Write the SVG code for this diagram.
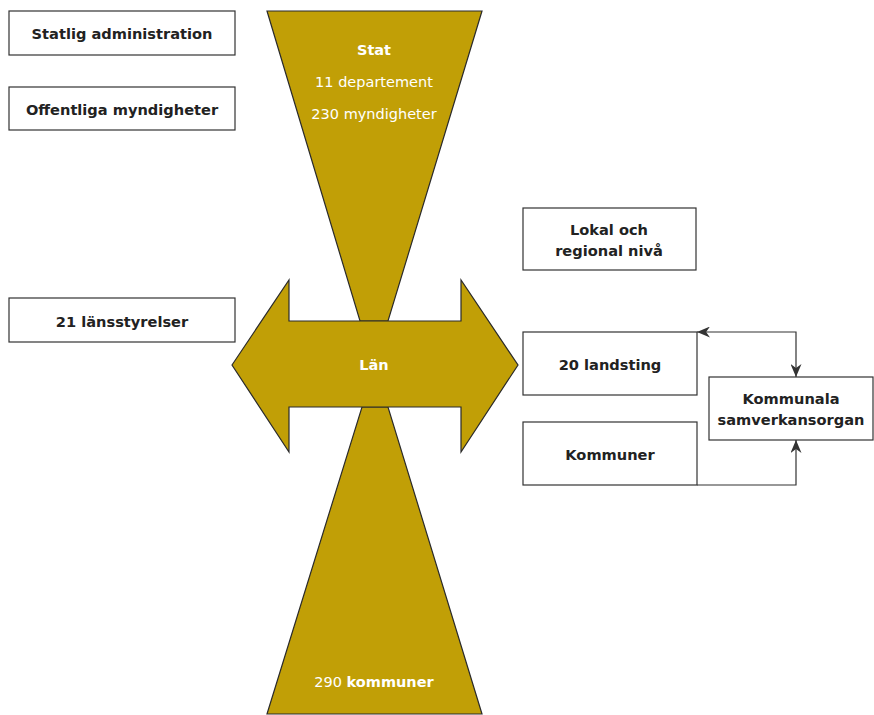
<svg xmlns="http://www.w3.org/2000/svg" width="874" height="715" viewBox="0 0 874 715">
<style>
.box{fill:#fff;stroke:#333;stroke-width:1.2}
.gold{fill:#C19F06;stroke:#2a2a2a;stroke-width:1.2;stroke-linejoin:miter}
.t{font-family:"DejaVu Sans",Verdana,sans-serif;font-size:14.6px;font-weight:bold;fill:#222;text-anchor:middle;dominant-baseline:central}
.w{font-family:"DejaVu Sans",Verdana,sans-serif;font-size:14.5px;fill:#fff;text-anchor:middle;dominant-baseline:central}
.conn{fill:none;stroke:#333;stroke-width:1.2}
</style>
<defs>
<marker id="ah" viewBox="0 0 10 10" refX="10" refY="5" markerWidth="13" markerHeight="11" markerUnits="userSpaceOnUse" orient="auto-start-reverse" preserveAspectRatio="none">
<path d="M0,0 L10,5 L0,10 L3,5 Z" fill="#333"/>
</marker>
</defs>
<g id="hourglass">
<polygon class="gold" points="267,11 482,11 388,321 360,321"/>
<polygon class="gold" points="362,407 388,407 482,714 267,714"/>
</g>
<g id="lan">
<polygon class="gold" points="232,365 289,280 289,321 461,321 461,280 518,365 461,452 461,407 289,407 289,452"/>
<text class="w" x="374" y="365" font-weight="bold">Län</text>
</g>
<g id="stat">
<text class="w" x="374" y="50" font-weight="bold">Stat</text>
<text class="w" x="374" y="82">11 departement</text>
<text class="w" x="374" y="114">230 myndigheter</text>
</g>
<g id="kommuner290">
<text class="w" x="374" y="682">290 <tspan font-weight="bold">kommuner</tspan></text>
</g>
<g id="statlig">
<rect class="box" x="9" y="11" width="226" height="44"/>
<text class="t" x="122" y="33">Statlig administration</text>
</g>
<g id="offentliga">
<rect class="box" x="9" y="87" width="226" height="43"/>
<text class="t" x="122" y="109">Offentliga myndigheter</text>
</g>
<g id="lansstyrelser">
<rect class="box" x="9" y="298" width="226" height="44"/>
<text class="t" x="122" y="321">21 länsstyrelser</text>
</g>
<g id="lokal">
<rect class="box" x="523" y="208" width="173" height="62"/>
<text class="t" x="609" y="229">Lokal och</text>
<text class="t" x="609" y="250">regional nivå</text>
</g>
<g id="landsting">
<rect class="box" x="523" y="332" width="174" height="63"/>
<text class="t" x="610" y="364">20 landsting</text>
</g>
<g id="kommuner">
<rect class="box" x="523" y="422" width="174" height="63"/>
<text class="t" x="610" y="454">Kommuner</text>
</g>
<g id="samverkan">
<rect class="box" x="709" y="377" width="164" height="63"/>
<text class="t" x="791" y="398">Kommunala</text>
<text class="t" x="791" y="419">samverkansorgan</text>
</g>
<g id="connectors">
<path class="conn" d="M697,332 H796 V377" marker-start="url(#ah)" marker-end="url(#ah)"/>
<path class="conn" d="M697,485 H796 V440" marker-end="url(#ah)"/>
</g>
</svg>
